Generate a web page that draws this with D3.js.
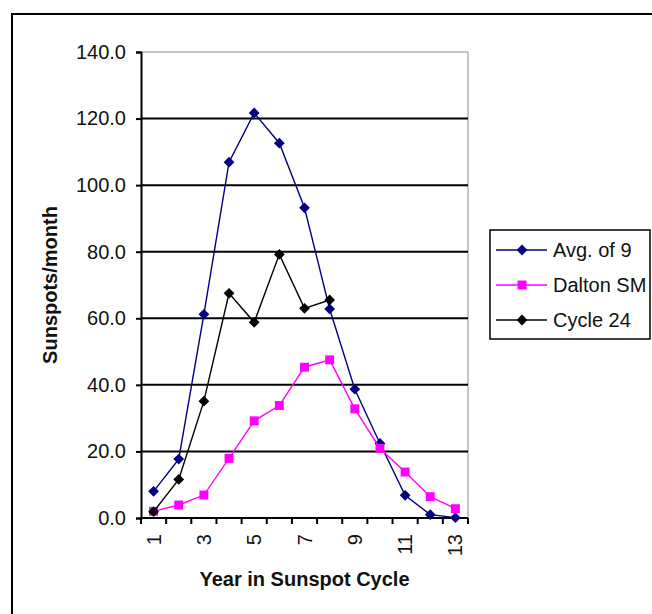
<!doctype html>
<html>
<head>
<meta charset="utf-8">
<title>Sunspot Cycle</title>
<script src="https://cdn.jsdelivr.net/npm/d3@7"></script>
<style>
    body { margin: 0; background: #fff; }
    text { font-family: "Liberation Sans", Arial, sans-serif; fill: #111; }
</style>
</head>
<body>
<div id="chart"></div>
<script>
// data
var years = [1, 2, 3, 4, 5, 6, 7, 8, 9, 10, 11, 12, 13];
var yearLabels = ["1", "3", "5", "7", "9", "11", "13"];
var avgOf9 = [8.0, 17.7, 61.2, 106.9, 121.7, 112.6, 93.2, 62.8, 38.7, 22.4, 6.8, 1.0, 0.1];
var daltonSM = [2.0, 3.9, 6.9, 17.9, 29.2, 33.8, 45.3, 47.5, 32.8, 20.9, 13.8, 6.4, 2.8];
var cycle24 = [1.9, 11.6, 35.1, 67.5, 58.8, 79.2, 63.0, 65.5];
var yTicks = [0, 20, 40, 60, 80, 100, 120, 140];

var series = [
    { name: "Avg. of 9", values: avgOf9, color: "#000080", shape: "diamond" },
    { name: "Dalton SM", values: daltonSM, color: "#ff00ff", shape: "square" },
    { name: "Cycle 24", values: cycle24, color: "#000000", shape: "diamond" }
];

var W = 652, H = 614;
var plotLeft = 141, plotRight = 468, plotTop = 52, plotBottom = 518;

var svg = d3.select("#chart").append("svg").attr("width", W).attr("height", H);

// outer chart border (runs off the right and bottom)
svg.append("rect").attr("x", 12).attr("y", 14).attr("width", 700).attr("height", 700)
    .attr("fill", "#fff").attr("stroke", "#000").attr("stroke-width", 2);

var x = d3.scaleBand().domain(years).range([plotLeft, plotRight]);
var y = d3.scaleLinear().domain([0, 140]).range([plotBottom, plotTop]);

// plot area frame (top and right only, thin grey)
svg.append("path")
    .attr("d", "M" + plotLeft + "," + y(140) + "H" + plotRight + "V" + plotBottom)
    .attr("fill", "none").attr("stroke", "#8c8c8c").attr("stroke-width", 1);

// gridlines
svg.append("g").selectAll("line").data(yTicks.filter(function (d) { return d > 0 && d < 140; }))
    .enter().append("line")
    .attr("x1", plotLeft).attr("x2", plotRight)
    .attr("y1", function (d) { return y(d); }).attr("y2", function (d) { return y(d); })
    .attr("stroke", "#000").attr("stroke-width", 2);

// y axis
var yAxis = svg.append("g").attr("transform", "translate(" + plotLeft + ",0)")
    .call(d3.axisLeft(y).tickValues(yTicks).tickFormat(d3.format(".1f")).tickSize(5).tickPadding(10));
yAxis.select(".domain").attr("stroke", "#000").attr("stroke-width", 2);
yAxis.selectAll(".tick line").attr("stroke", "#000").attr("stroke-width", 2);
yAxis.selectAll("text").style("font-size", "20px").attr("fill", "#111")
    .style("font-family", "'Liberation Sans', Arial, sans-serif");

// x axis: line, ticks on category boundaries, rotated odd labels
var xg = svg.append("g");
xg.append("line").attr("x1", plotLeft).attr("x2", plotRight).attr("y1", plotBottom).attr("y2", plotBottom)
    .attr("stroke", "#000").attr("stroke-width", 2);
var bounds = years.map(function (d) { return x(d); }).concat([x(years[years.length - 1]) + x.bandwidth()]);
xg.selectAll(".xt").data(bounds).enter().append("line")
    .attr("x1", function (d) { return d; }).attr("x2", function (d) { return d; })
    .attr("y1", plotBottom).attr("y2", plotBottom + 6)
    .attr("stroke", "#000").attr("stroke-width", 2);
xg.selectAll(".xl").data(yearLabels).enter().append("text")
    .attr("transform", function (d) {
        return "translate(" + (x(+d) + x.bandwidth() / 2) + "," + (plotBottom + 16) + ") rotate(-90)";
    })
    .attr("text-anchor", "end").attr("dy", "0.35em")
    .style("font-size", "20px").text(function (d) { return d; });

// axis titles
svg.append("text").attr("x", (plotLeft + plotRight) / 2).attr("y", 586)
    .attr("text-anchor", "middle").style("font-size", "20px").style("font-weight", "bold")
    .text("Year in Sunspot Cycle");
svg.append("text").attr("transform", "translate(57," + ((plotTop + plotBottom) / 2) + ") rotate(-90)")
    .attr("text-anchor", "middle").style("font-size", "20px").style("font-weight", "bold")
    .text("Sunspots/month");

// markers
function marker(sel, s) {
    if (s.shape === "square") {
        sel.attr("d", d3.symbol().type(d3.symbolSquare).size(80)());
    } else {
        sel.attr("d", d3.symbol().type(d3.symbolSquare).size(58)());
    }
    sel.attr("fill", s.color).attr("stroke", "none");
}

var line = d3.line()
    .x(function (d, i) { return x(years[i]) + x.bandwidth() / 2; })
    .y(function (d) { return y(d); });

series.forEach(function (s) {
    var g = svg.append("g");
    g.append("path").attr("d", line(s.values))
        .attr("fill", "none").attr("stroke", s.color).attr("stroke-width", 1.4);
    g.selectAll("path.m").data(s.values).enter().append("path").attr("class", "m")
        .attr("transform", function (d, i) {
            var t = "translate(" + (x(years[i]) + x.bandwidth() / 2) + "," + y(d) + ")";
            return s.shape === "diamond" ? t + " rotate(45)" : t;
        })
        .call(marker, s);
});

// legend
var lg = svg.append("g").attr("transform", "translate(490,230)");
lg.append("rect").attr("width", 160).attr("height", 109)
    .attr("fill", "#fff").attr("stroke", "#000").attr("stroke-width", 1.5);
series.forEach(function (s, i) {
    var row = lg.append("g").attr("transform", "translate(0," + (20 + i * 35) + ")");
    row.append("line").attr("x1", 6).attr("x2", 57).attr("y1", 0).attr("y2", 0)
        .attr("stroke", s.color).attr("stroke-width", 1.4);
    row.append("path")
        .attr("transform", "translate(32,0)" + (s.shape === "diamond" ? " rotate(45)" : ""))
        .call(marker, s);
    row.append("text").attr("x", 63).attr("dy", "0.35em")
        .style("font-size", "20px").text(s.name);
});
</script>
</body>
</html>
